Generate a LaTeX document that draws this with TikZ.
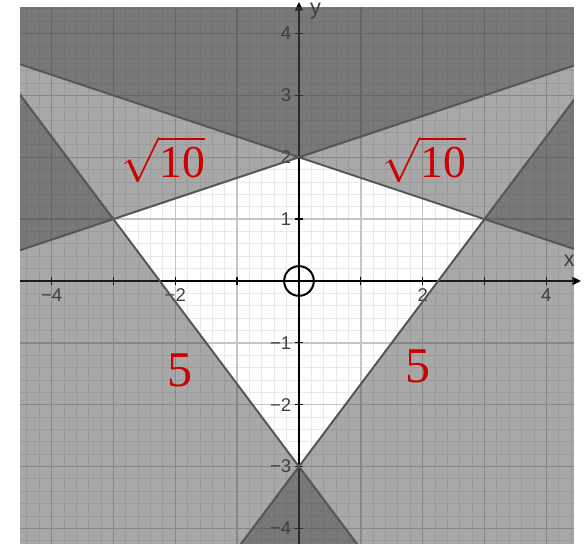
\documentclass[tikz,border=0pt]{standalone}
\usepackage{fontspec}
\newfontfamily\ticksans{Liberation Sans}
\newfontfamily\sideserif{Liberation Serif}
\usepackage{tikz}
\usetikzlibrary{arrows.meta}
\definecolor{figred}{RGB}{204,0,0}
\definecolor{figminor}{RGB}{232,232,232}
\definecolor{figmajor}{RGB}{196,196,196}
\definecolor{figshade}{RGB}{61,61,61}
\definecolor{figedge}{RGB}{85,85,85}
\tikzstyle{halfplane} = [fill=figshade, fill opacity=0.45, draw=none]
\tikzstyle{boundary} = [draw=figedge, line width=0.9pt]
\tikzstyle{axis} = [-{Triangle[length=1.4mm, width=1.3mm]}, line width=0.7pt, black]
\tikzstyle{ticklabel} = [font=\ticksans\fontsize{8.5}{10}\selectfont, text=black!75, inner sep=0pt]
\tikzstyle{sidelabel} = [text=figred, inner sep=0pt]

\begin{document}
\begin{tikzpicture}
    \useasboundingbox (-4.834,-4.252) rectangle (4.641,4.543);
    \coordinate (plotsw) at (-4.51,-4.252);
    \coordinate (plotne) at (4.446,4.414);
    \begin{scope}
        \clip (plotsw) rectangle (plotne);
        \draw[figminor, line width=0.4pt, step=0.2] (-5,-5) grid (5,5);
        \draw[figmajor, line width=0.7pt, step=1] (-5,-5) grid (5,5);
    \end{scope}
    \coordinate (xstart) at (-4.51,0);
    \coordinate (xend) at (4.56,0);
    \coordinate (ystart) at (0,-4.252);
    \coordinate (yend) at (0,4.51);
    \draw[axis] (xstart) -- (xend);
    \draw[axis] (ystart) -- (yend);
    \foreach \i in {-4,...,-1,1,2,3,4} {
        \draw[line width=0.6pt] (\i,-0.065) -- (\i,0.065);
        \draw[line width=0.6pt] (-0.065,\i) -- (0.065,\i);
    }
    \foreach \i/\t in {-4/−4,-2/−2,2/2,4/4}
        \node[ticklabel, anchor=north] (xtick\i) at (\i,-0.12) {\t};
    \foreach \i/\t in {-4/−4,-3/−3,-2/−2,-1/−1,1/1,2/2,3/3,4/4}
        \node[ticklabel, anchor=east] (ytick\i) at (-0.12,\i) {\t};
    \node[ticklabel, font=\ticksans\fontsize{10}{12}\selectfont] (xname) at (4.37,0.32) {x};
    \node[ticklabel, font=\ticksans\fontsize{10}{12}\selectfont] (yname) at (0.27,4.36) {y};
    \begin{scope}
        \clip (plotsw) rectangle (plotne);
        \fill[halfplane] (-6,0) -- (6,4) -- (6,6) -- (-6,6) -- cycle;
        \fill[halfplane] (-6,4) -- (6,0) -- (6,6) -- (-6,6) -- cycle;
        \fill[halfplane] (-6,5) -- (1.5,-5) -- (-6,-5) -- cycle;
        \fill[halfplane] (6,5) -- (-1.5,-5) -- (6,-5) -- cycle;
        \draw[boundary] (-6,0) -- (6,4);
        \draw[boundary] (-6,4) -- (6,0);
        \draw[boundary] (-6,5) -- (1.5,-5);
        \draw[boundary] (6,5) -- (-1.5,-5);
    \end{scope}
    \node[draw, circle, line width=0.9pt, minimum size=0.48cm, inner sep=0pt] (origin) at (0,0) {};
    \node[sidelabel, font=\fontsize{21}{25}\selectfont] (rootleft) at (-2.19,1.96) {$\sqrt{\mbox{\sideserif 10}}$};
    \node[sidelabel, font=\fontsize{21}{25}\selectfont] (rootright) at (2.03,1.96) {$\sqrt{\mbox{\sideserif 10}}$};
    \node[sidelabel, font=\sideserif\fontsize{23}{27}\selectfont] (fiveleft) at (-1.92,-1.44) {5};
    \node[sidelabel, font=\sideserif\fontsize{23}{27}\selectfont] (fiveright) at (1.93,-1.38) {5};
\end{tikzpicture}
\end{document}
